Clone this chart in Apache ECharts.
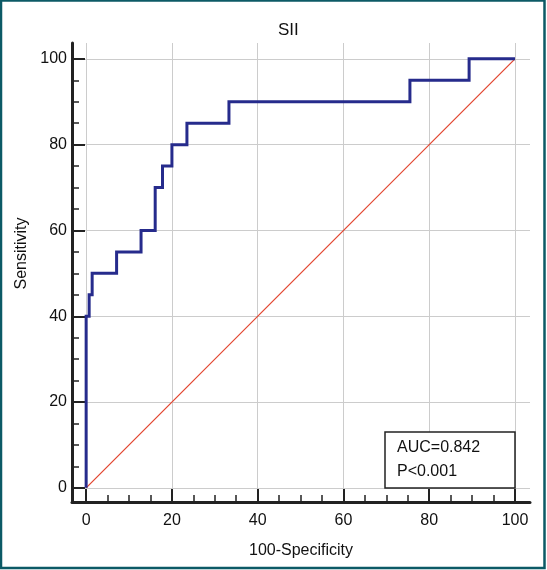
<!DOCTYPE html>
<html>
<head>
<meta charset="utf-8">
<script src="https://cdn.jsdelivr.net/npm/echarts@6/dist/echarts.min.js"></script>
<style>
html,body{margin:0;padding:0;background:#fff;}
#chart{width:547px;height:570px;}
</style>
</head>
<body>
<div id="chart"></div>
<script>
// ROC curve step points (100-Specificity, Sensitivity)
const rocX = [0, 0, 0.7, 0.7, 1.4, 1.4, 7.1, 7.1, 12.8, 12.8, 16.1, 16.1, 17.8, 17.8, 20.0, 20.0, 23.5, 23.5, 33.3, 33.3, 75.5, 75.5, 89.3, 89.3, 100];
const rocY = [0, 40, 40, 45, 45, 50, 50, 55, 55, 60, 60, 70, 70, 75, 75, 80, 80, 85, 85, 90, 90, 95, 95, 100, 100];
// reference diagonal
const diagX = [0, 100];
const diagY = [0, 100];
// ticks
const majorTicks = [0, 20, 40, 60, 80, 100];
const minorTicks = [5, 10, 15, 25, 30, 35, 45, 50, 55, 65, 70, 75, 85, 90, 95];
const titleText = 'SII';
const xName = '100-Specificity';
const yName = 'Sensitivity';
const annotLines = ['AUC=0.842', 'P<0.001'];

const FONT = '"Liberation Sans", Arial, sans-serif';
const chart = echarts.init(document.getElementById('chart'), null, {renderer: 'canvas'});

function majorAxis(extra) {
  return Object.assign({
    type: 'value',
    axisLine: {show: true, onZero: false, lineStyle: {color: '#222', width: 3}},
    axisTick: {show: true, inside: true, length: 13, customValues: majorTicks, lineStyle: {color: '#222', width: 2}},
    axisLabel: {show: true, customValues: majorTicks, color: '#111', fontSize: 16, fontFamily: FONT},
    splitLine: {show: true, lineStyle: {color: '#cccccc', width: 1}}
  }, extra);
}
function minorAxis(extra) {
  return Object.assign({
    type: 'value',
    axisLine: {show: false, onZero: false},
    axisTick: {show: true, inside: true, length: 7, customValues: minorTicks, lineStyle: {color: '#222', width: 1.5}},
    axisLabel: {show: false},
    splitLine: {show: false}
  }, extra);
}

const option = {
  backgroundColor: '#fff',
  animation: false,
  title: {
    text: titleText, left: 273, top: 17,
    textStyle: {fontSize: 17, fontWeight: 'normal', color: '#111', fontFamily: FONT}
  },
  grid: {left: 72, right: 17, top: 43, bottom: 68, containLabel: false},
  xAxis: [
    majorAxis({min: -3.3, max: 103.5, position: 'bottom', name: xName, nameLocation: 'middle', nameGap: 41,
      nameTextStyle: {color: '#111', fontSize: 16, fontFamily: FONT},
      axisLabel: {show: true, customValues: majorTicks, color: '#111', fontSize: 16, fontFamily: FONT, margin: 11}}),
    minorAxis({min: -3.3, max: 103.5, position: 'bottom'})
  ],
  yAxis: [
    majorAxis({min: -3.3, max: 103.7, position: 'left', name: yName, nameLocation: 'middle', nameGap: 42,
      nameTextStyle: {color: '#111', fontSize: 16, fontFamily: FONT, padding: [0, 0, 0, 38]},
      axisLabel: {show: true, customValues: majorTicks, color: '#111', fontSize: 16, fontFamily: FONT, margin: 5}}),
    minorAxis({min: -3.3, max: 103.7, position: 'left'})
  ],
  series: [
    {
      type: 'line', xAxisIndex: 0, yAxisIndex: 0, symbol: 'none', z: 2,
      color: '#e2452f',
      data: diagX.map((v, i) => [v, diagY[i]]),
      itemStyle: {color: '#e2452f'},
      lineStyle: {color: '#e2452f', width: 1.2, opacity: 1}
    },
    {
      type: 'line', xAxisIndex: 0, yAxisIndex: 0, symbol: 'none', z: 3,
      color: '#262b8c',
      data: rocX.map((v, i) => [v, rocY[i]]),
      lineStyle: {color: '#262b8c', width: 3, join: 'miter'}
    }
  ],
  graphic: [
    {
      type: 'rect', z: 100,
      shape: {x: 385, y: 432, width: 130, height: 56},
      style: {fill: '#fff', stroke: '#222', lineWidth: 1.5}
    },
    {
      type: 'text', z: 101, x: 397, y: 440,
      style: {text: annotLines[0], fill: '#111', font: '16px ' + FONT}
    },
    {
      type: 'text', z: 101, x: 397, y: 464,
      style: {text: annotLines[1], fill: '#111', font: '16px ' + FONT}
    },
    {
      type: 'rect', z: 200, silent: true,
      shape: {x: 1, y: 0.5, width: 543.5, height: 567.5},
      style: {fill: 'none', stroke: '#0c5a66', lineWidth: 2.5}
    }
  ]
};
chart.setOption(option);
</script>
</body>
</html>
